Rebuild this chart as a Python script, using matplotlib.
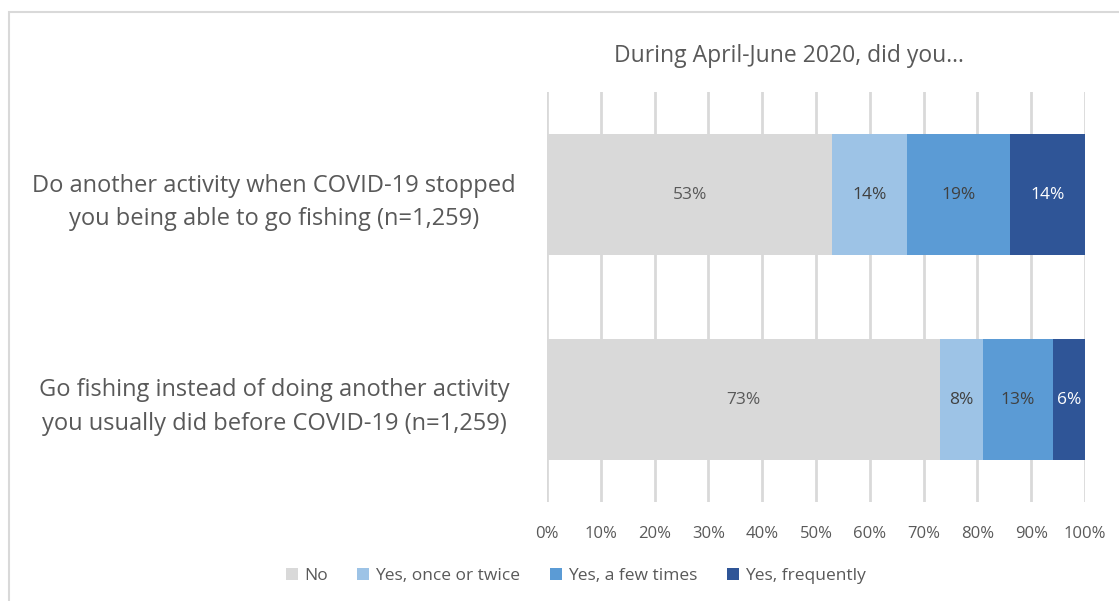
import matplotlib
matplotlib.use("Agg")
import matplotlib.pyplot as plt
from matplotlib.patches import Rectangle
from matplotlib.ticker import MultipleLocator, FuncFormatter

plt.rcParams['font.family'] = ['Open Sans', 'DejaVu Sans']

categories = [
    "Do another activity when COVID-19 stopped\nyou being able to go fishing (n=1,259)",
    "Go fishing instead of doing another activity\nyou usually did before COVID-19 (n=1,259)",
]
series_names = ["No", "Yes, once or twice", "Yes, a few times", "Yes, frequently"]
series_values = [
    [53, 73],
    [14, 8],
    [19, 13],
    [14, 6],
]
colors = ["#d9d9d9", "#9dc3e6", "#5b9bd5", "#2f5597"]
label_colors = ["#595959", "#404040", "#404040", "#ffffff"]
title = "During April-June 2020, did you..."

fig = plt.figure(figsize=(11.19, 6.01), dpi=100)
W, H = 1119, 601

# chart-area frame
fig.patches.append(Rectangle((9 / W, -0.1), 1.2, 1 - 12 / H + 0.1,
                             transform=fig.transFigure, fill=False,
                             edgecolor="#d9d9d9", linewidth=1.5, zorder=0))

ax = fig.add_axes([547 / W, 1 - 502 / H, (1085 - 547) / W, (502 - 92) / H])

ypos = list(range(len(categories)))
left = [0.0] * len(categories)
for name, vals, col, tcol in zip(series_names, series_values, colors, label_colors):
    bars = ax.barh(ypos, vals, left=left, height=0.59, color=col, label=name,
                   zorder=3, linewidth=0)
    for b, v in zip(bars, vals):
        ax.text(b.get_x() + b.get_width() / 2, b.get_y() + b.get_height() / 2,
                f"{v}%", ha="center", va="center", color=tcol, fontsize=12.5,
                zorder=4)
    left = [l + v for l, v in zip(left, vals)]

ax.set_xlim(0, 100)
ax.set_ylim(1.5, -0.5)
ax.xaxis.set_major_locator(MultipleLocator(10))
ax.xaxis.set_major_formatter(FuncFormatter(lambda x, _: f"{x:.0f}%"))
ax.set_yticks(ypos)
ax.set_yticklabels(categories, fontsize=17, color="#595959", ha="center",
                   linespacing=1.5)
ax.tick_params(axis="y", length=0, pad=196.5)
ax.tick_params(axis="x", length=0, pad=17, labelsize=12, labelcolor="#595959")
ax.grid(axis="x", color="#d9d9d9", linewidth=2, zorder=0)
for s in ax.spines.values():
    s.set_visible(False)

fig.text(789 / W, 1 - 56 / H, title, ha="center", va="center",
         fontsize=16.5, color="#595959")

fig.legend(loc="center", bbox_to_anchor=(576 / W, 1 - 576 / H), ncol=4,
           frameon=False, fontsize=12.5, labelcolor="#595959",
           handlelength=0.7, handleheight=0.7, handletextpad=0.35,
           columnspacing=1.7)

fig.savefig("out.png", dpi=100)
